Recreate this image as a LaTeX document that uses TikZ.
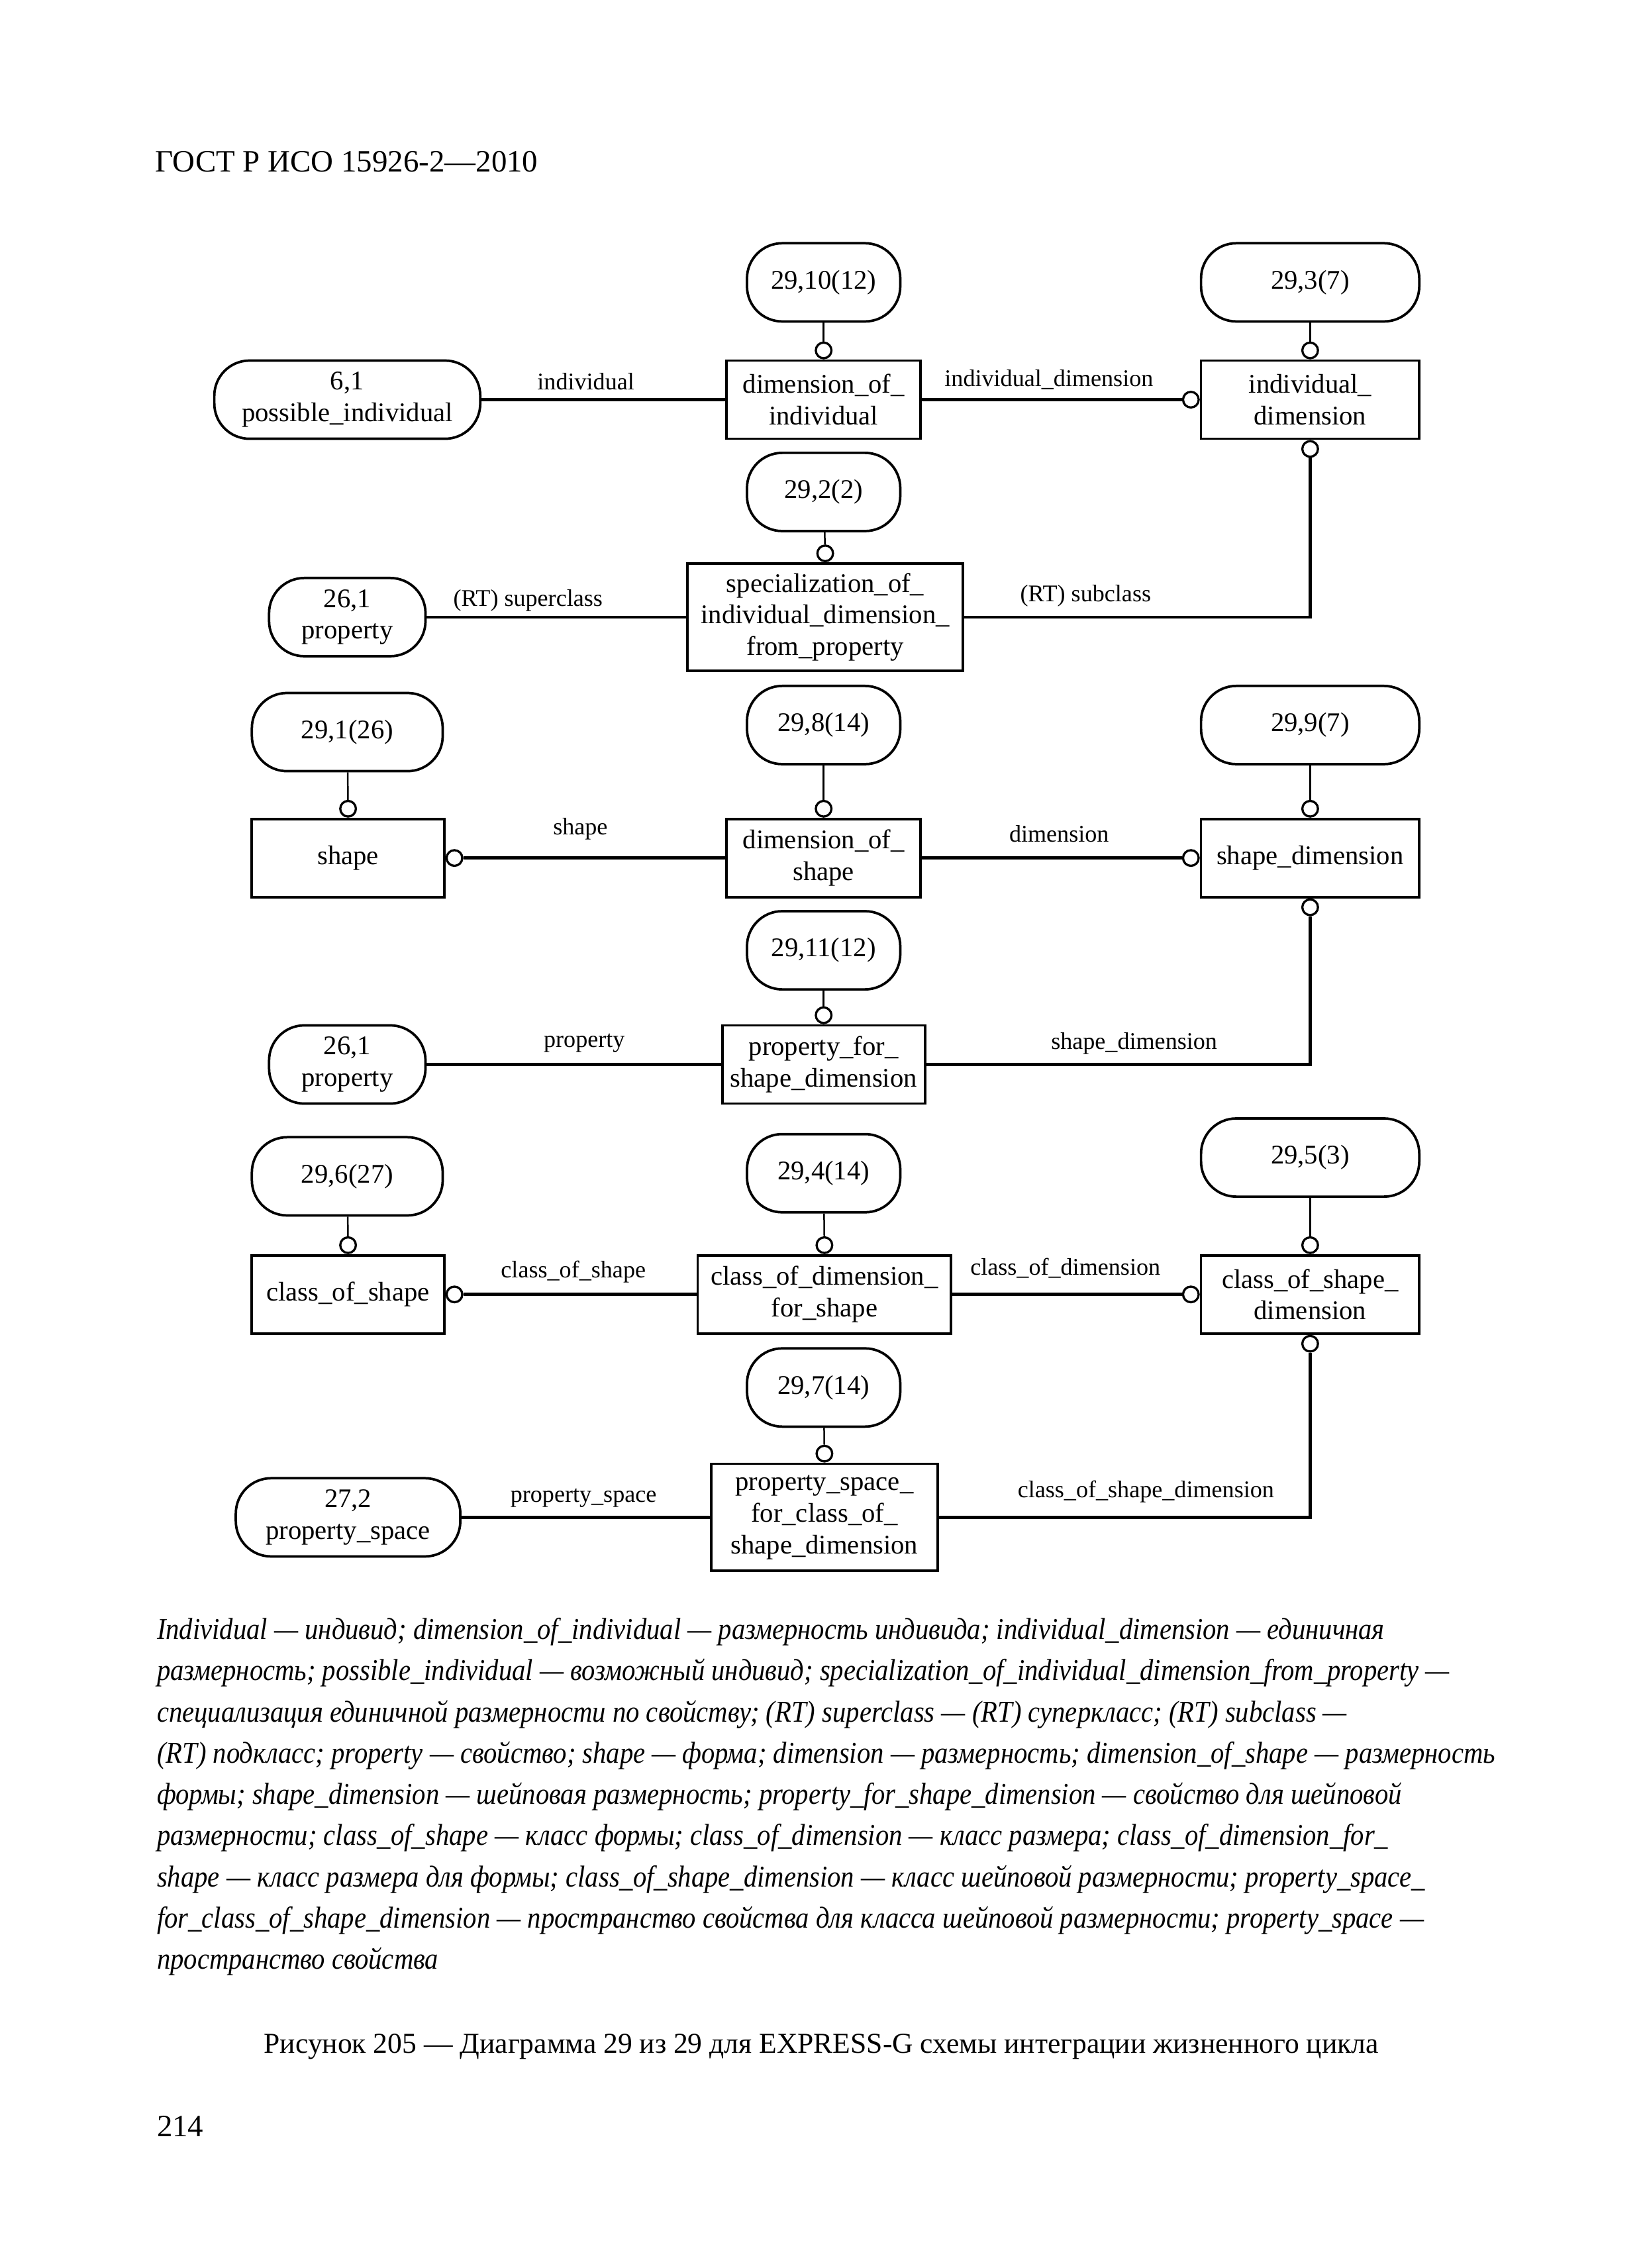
\documentclass[tikz,border=0pt]{standalone}
\usepackage{fontspec}
\setmainfont{Liberation Serif}
\newfontfamily\keyfont[FakeStretch=0.89]{Liberation Serif}
\usetikzlibrary{positioning}

\begin{document}
\begin{tikzpicture}[
    font=\fontsize{9.8}{11.5}\selectfont,
    ent/.style={draw, line width=0.9pt, minimum width=#1, minimum height=10mm,
                inner sep=1pt, align=center},
    ref/.style={draw, line width=0.9pt, rounded corners=4.5mm, minimum width=#1,
                minimum height=10mm, inner sep=1pt, align=center},
    ring/.style={circle, draw, line width=0.8pt, fill=white, inner sep=0pt, minimum size=2.0mm},
    rel/.style={line width=1.1pt},
    stub/.style={line width=0.6pt},
    lbl/.style={font=\fontsize{8.7}{10}\selectfont, inner sep=0pt},
    legend/.style={font=\keyfont\itshape\fontsize{11}{15}\selectfont, align=left, inner sep=0pt},
    page/.style={font=\fontsize{11.3}{13}\selectfont, inner sep=0pt},
]
\useasboundingbox (0,0) rectangle (21,-28.998);

\node[page, anchor=base west] (head) at (1.98,-2.20) {ГОСТ Р ИСО 15926-2—2010};

% ---------- row 1: dimension of individual ----------
\node[ref=19.6mm] (ref10) at (10.53,-3.61) {29,10(12)};
\node[ref=27.9mm] (ref3)  at (16.75,-3.61) {29,3(7)};
\node[ref=34mm]   (posind) at (4.44,-5.11) {6,1\\possible\_individual};
\node[ent=24.8mm] (dimind) at (10.53,-5.11) {dimension\_of\_\\individual};
\node[ent=27.9mm] (inddim) at (16.75,-5.11) {individual\_\\dimension};

\node[ring, above=0pt of dimind] (c10) {};
\node[ring, above=0pt of inddim] (c3n) {};
\node[ring, left=0pt of inddim]  (c3w) {};
\node[ring, below=0pt of inddim] (c3s) {};

\draw[stub] (ref10) -- (c10);
\draw[stub] (ref3) -- (c3n);
\draw[rel] (posind) -- (dimind);
\draw[rel] (dimind) -- (c3w);

\node[lbl] (l1) at (7.49,-4.88)  {individual};
\node[lbl] (l2) at (13.41,-4.85) {individual\_dimension};

% ---------- row 2: specialization ----------
\node[ref=19.6mm] (ref2)  at (10.53,-6.29) {29,2(2)};
\node[ref=20mm]   (prop1) at (4.44,-7.89)  {26,1\\property};
\node[ent=35.2mm, minimum height=13.7mm] (spec) at (10.55,-7.89)
  {specialization\_of\_\\individual\_dimension\_\\from\_property};

\node[ring, above=0pt of spec] (c2) {};
\draw[stub] (ref2) -- (c2);
\draw[rel] (prop1) -- (spec);
\draw[rel] (spec.east) -| (c3s);

\node[lbl] (l3) at (6.75,-7.68)  {(RT) superclass};
\node[lbl] (l4) at (13.88,-7.62) {(RT) subclass};

% ---------- row 3: dimension of shape ----------
\node[ref=24.4mm] (ref1) at (4.44,-9.36)  {29,1(26)};
\node[ref=19.6mm] (ref8) at (10.53,-9.27) {29,8(14)};
\node[ref=27.9mm] (ref9) at (16.75,-9.27) {29,9(7)};
\node[ent=24.6mm] (shape)  at (4.45,-10.97)  {shape};
\node[ent=24.8mm] (dimshp) at (10.53,-10.97) {dimension\_of\_\\shape};
\node[ent=27.9mm] (shpdim) at (16.75,-10.97) {shape\_dimension};

\node[ring, above=0pt of shape]  (c1n) {};
\node[ring, right=0pt of shape]  (c1e) {};
\node[ring, above=0pt of dimshp] (c8)  {};
\node[ring, above=0pt of shpdim] (c9n) {};
\node[ring, left=0pt of shpdim]  (c9w) {};
\node[ring, below=0pt of shpdim] (c9s) {};

\draw[stub] (ref1) -- (c1n);
\draw[stub] (ref8) -- (c8);
\draw[stub] (ref9) -- (c9n);
\draw[rel] (c1e) -- (dimshp);
\draw[rel] (dimshp) -- (c9w);

\node[lbl] (l5) at (7.42,-10.60)  {shape};
\node[lbl] (l6) at (13.54,-10.66) {dimension};

% ---------- row 4: property for shape dimension ----------
\node[ref=19.6mm] (ref11) at (10.53,-12.15) {29,11(12)};
\node[ref=20mm]   (prop2) at (4.44,-13.61)  {26,1\\property};
\node[ent=25.9mm] (pfsd)  at (10.53,-13.61) {property\_for\_\\shape\_dimension};

\node[ring, above=0pt of pfsd] (c11) {};
\draw[stub] (ref11) -- (c11);
\draw[rel] (prop2) -- (pfsd);
\draw[rel] (pfsd.east) -| (c9s);

\node[lbl] (l7) at (7.47,-13.34)  {property};
\node[lbl] (l8) at (14.50,-13.34) {shape\_dimension};

% ---------- row 5: class of dimension for shape ----------
\node[ref=24.4mm] (ref6) at (4.44,-15.04)  {29,6(27)};
\node[ref=19.6mm] (ref4) at (10.53,-15.00) {29,4(14)};
\node[ref=27.9mm] (ref5) at (16.75,-14.80) {29,5(3)};
\node[ent=24.6mm] (cos)   at (4.45,-16.55)  {class\_of\_shape};
\node[ent=32.4mm] (codfs) at (10.54,-16.55) {class\_of\_dimension\_\\for\_shape};
\node[ent=27.9mm] (cosd)  at (16.75,-16.55) {class\_of\_shape\_\\dimension};

\node[ring, above=0pt of cos]   (c6n) {};
\node[ring, right=0pt of cos]   (c6e) {};
\node[ring, above=0pt of codfs] (c4)  {};
\node[ring, above=0pt of cosd]  (c5n) {};
\node[ring, left=0pt of cosd]   (c5w) {};
\node[ring, below=0pt of cosd]  (c5s) {};

\draw[stub] (ref6) -- (c6n);
\draw[stub] (ref4) -- (c4);
\draw[stub] (ref5) -- (c5n);
\draw[rel] (c6e) -- (codfs);
\draw[rel] (codfs) -- (c5w);

\node[lbl] (l9)  at (7.33,-16.26)  {class\_of\_shape};
\node[lbl] (l10) at (13.62,-16.21) {class\_of\_dimension};

% ---------- row 6: property space ----------
\node[ref=19.6mm] (ref7) at (10.53,-17.74) {29,7(14)};
\node[ref=28.7mm] (psp)  at (4.45,-19.40)  {27,2\\property\_space};
\node[ent=29mm, minimum height=13.7mm] (psfc) at (10.54,-19.40)
  {property\_space\_\\for\_class\_of\_\\shape\_dimension};

\node[ring, above=0pt of psfc] (c7) {};
\draw[stub] (ref7) -- (c7);
\draw[rel] (psp) -- (psfc);
\draw[rel] (psfc.east) -| (c5s);

\node[lbl] (l11) at (7.46,-19.15)  {property\_space};
\node[lbl] (l12) at (14.65,-19.07) {class\_of\_shape\_dimension};

% ---------- key and caption ----------
\node[legend, anchor=north west] (key) at (2.0,-20.68)
  {Individual — индивид; dimension\_of\_individual — размерность индивида; individual\_dimension — единичная\\
   размерность; possible\_individual — возможный индивид; specialization\_of\_individual\_dimension\_from\_property —\\
   специализация единичной размерности по свойству; (RT) superclass — (RT) суперкласс; (RT) subclass —\\
   (RT) подкласс; property — свойство; shape — форма; dimension — размерность; dimension\_of\_shape — размерность\\
   формы; shape\_dimension — шейповая размерность; property\_for\_shape\_dimension — свойство для шейповой\\
   размерности; class\_of\_shape — класс формы; class\_of\_dimension — класс размера; class\_of\_dimension\_for\_\\
   shape — класс размера для формы; class\_of\_shape\_dimension — класс шейповой размерности; property\_space\_\\
   for\_class\_of\_shape\_dimension — пространство свойства для класса шейповой размерности; property\_space —\\
   пространство свойства};

\node[page, anchor=base, font=\fontsize{10.5}{13}\selectfont] (cap) at (10.50,-26.25)
  {Рисунок 205 — Диаграмма 29 из 29 для EXPRESS-G схемы интеграции жизненного цикла};
\node[page, anchor=base west] (pgno) at (2.0,-27.32) {214};

\end{tikzpicture}
\end{document}
